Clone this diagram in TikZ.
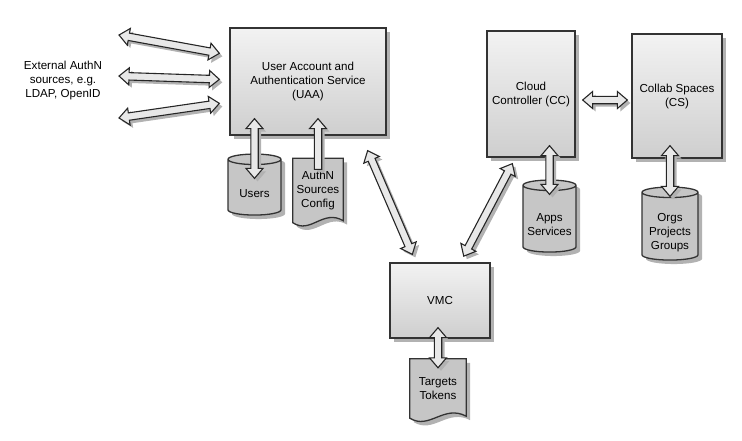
\documentclass[tikz,border=0pt]{standalone}
\usepackage{fontspec}
\setmainfont{Liberation Sans}
\usetikzlibrary{calc,shapes.geometric,shadows,backgrounds}

\newcommand{\diagfont}{\fontsize{11.6}{14}\selectfont}

\tikzset{
  castshadow/.style={drop shadow={shadow xshift=4pt, shadow yshift=-4pt, fill=black!30, opacity=1}},
  box/.style={rectangle, draw=black!80, line width=1.3pt, top color=gray!10, bottom color=gray!38,
    castshadow, align=center, font=\diagfont},
  store/.style={cylinder, shape border rotate=90, aspect=0.25, draw=black!80, line width=1.3pt,
    fill=gray!45, castshadow, inner sep=0pt, font=\diagfont},
  storetext/.style={font=\diagfont, align=center, yshift=-6pt},
  docnode/.style={rectangle, align=center, inner sep=0pt, font=\diagfont},
  docline/.style={draw=black!80, line width=1.3pt, fill=gray!45, castshadow},
  fatarrow/.style={draw=black!85, line width=1.1pt, fill=gray!18, line join=miter,
    drop shadow={shadow xshift=3pt, shadow yshift=-3pt, fill=black!30, opacity=1}},
}

% hollow arrow, heads at both ends
\newcommand{\dblarrow}[2]{%
  \draw[fatarrow] let \p1=($(#2)-(#1)$), \n1={atan2(\y1,\x1)}, \n2={veclen(\x1,\y1)} in
    [shift={(#1)}, rotate=\n1]
    (0pt,0pt) -- (10pt,8.5pt) -- (10pt,3.7pt) -- ({\n2*1pt-10pt},3.7pt) -- ({\n2*1pt-10pt},8.5pt)
    -- ({\n2*1pt},0pt) -- ({\n2*1pt-10pt},-8.5pt) -- ({\n2*1pt-10pt},-3.7pt) -- (10pt,-3.7pt)
    -- (10pt,-8.5pt) -- cycle;}

% hollow arrow, head at the second end only
\newcommand{\onearrow}[2]{%
  \draw[fatarrow] let \p1=($(#2)-(#1)$), \n1={atan2(\y1,\x1)}, \n2={veclen(\x1,\y1)} in
    [shift={(#1)}, rotate=\n1]
    (0pt,3.7pt) -- ({\n2*1pt-10pt},3.7pt) -- ({\n2*1pt-10pt},8.5pt) -- ({\n2*1pt},0pt)
    -- ({\n2*1pt-10pt},-8.5pt) -- ({\n2*1pt-10pt},-3.7pt) -- (0pt,-3.7pt) -- cycle;}

% outline of a document with a wavy bottom
\newcommand{\docshape}[1]{%
  \begin{scope}[on background layer]
    \draw[docline] (#1.north west) -- (#1.north east) -- ($(#1.south east)+(0,-2)$)
      .. controls ($(#1.south west)!0.6!(#1.south east)+(0,-14)$)
      and ($(#1.south west)!0.35!(#1.south east)+(0,12)$) .. (#1.south west) -- cycle;
  \end{scope}}

\begin{document}
\begin{tikzpicture}[x=1pt, y=-1pt]
    \useasboundingbox (0,0) rectangle (742,440);

    \node[font=\diagfont, align=center] (ext) at (63,80) {External AuthN\\sources, e.g.\\LDAP, OpenID};

    \node[box, minimum width=156, minimum height=107] (uaa) at (308,81.5)
        {User Account and\\Authentication Service\\(UAA)};
    \node[box, minimum width=88, minimum height=126] (cc) at (531,94) {Cloud\\Controller (CC)};
    \node[box, minimum width=90, minimum height=124] (cs) at (677,96) {Collab Spaces\\(CS)};
    \node[box, minimum width=100, minimum height=75] (vmc) at (440,300.5) {VMC};

    % the phantom keeps the top ellipse the same size on all three
    \node[store, minimum width=53, minimum height=61,
        label={[storetext]center:Users}] (users) at (254.5,187.5) {\phantom{Projects}};
    \node[store, minimum width=53, minimum height=72,
        label={[storetext]center:Apps\\Services}] (apps) at (549.5,219) {\phantom{Projects}};
    \node[store, minimum width=56, minimum height=73,
        label={[storetext]center:Orgs\\Projects\\Groups}] (orgs) at (670,226.5) {\phantom{Projects}};

    \node[docnode, minimum width=50, minimum height=64] (authn) at (318,190.5) {AuthN\\Sources\\Config};
    \node[docnode, minimum width=56, minimum height=59] (targets) at (438,388.5) {Targets\\Tokens};
    \docshape{authn}
    \docshape{targets}

    % arrow ends
    \foreach \i/\ly/\ry in {1/35/26, 2/76/52, 3/118/76}
    {
        \coordinate (src\i) at (119,\ly);
        \coordinate (uaa\i) at ($(uaa.north west)+(-10,\ry)$);
        \dblarrow{src\i}{uaa\i}
    }
    \coordinate (uaaUsers) at ($(users.north |- uaa.south)+(0,-17)$);
    \coordinate (usersIn) at ($(users.north)+(0,25)$);
    \coordinate (uaaAuthn) at ($(authn.north |- uaa.south)+(0,-17)$);
    \coordinate (authnIn) at ($(authn.north)+(0,11)$);
    \coordinate (uaaVmc) at ($(uaa.south east)+(-19,15)$);
    \coordinate (vmcUaa) at ($(vmc.north west)+(23,-8)$);
    \coordinate (ccVmc) at ($(cc.south west)+(26,6)$);
    \coordinate (vmcCc) at ($(vmc.north east)+(-27,-6)$);
    \coordinate (ccCs) at ($(cc.east)+(7,6)$);
    \coordinate (csCc) at ($(cs.west)+(-4,4)$);
    \coordinate (ccApps) at ($(apps.north |- cc.south)+(0,-12)$);
    \coordinate (appsIn) at ($(apps.north)+(0,15)$);
    \coordinate (csOrgs) at ($(orgs.north |- cs.south)+(0,-13)$);
    \coordinate (orgsIn) at ($(orgs.north)+(0,10)$);
    \coordinate (vmcTargets) at ($(targets.north |- vmc.south)+(0,-11)$);
    \coordinate (targetsIn) at ($(targets.north)+(0,9)$);

    \dblarrow{uaaUsers}{usersIn}
    \onearrow{authnIn}{uaaAuthn}
    \dblarrow{uaaVmc}{vmcUaa}
    \dblarrow{ccVmc}{vmcCc}
    \dblarrow{ccCs}{csCc}
    \dblarrow{ccApps}{appsIn}
    \dblarrow{csOrgs}{orgsIn}
    \dblarrow{vmcTargets}{targetsIn}
\end{tikzpicture}
\end{document}
